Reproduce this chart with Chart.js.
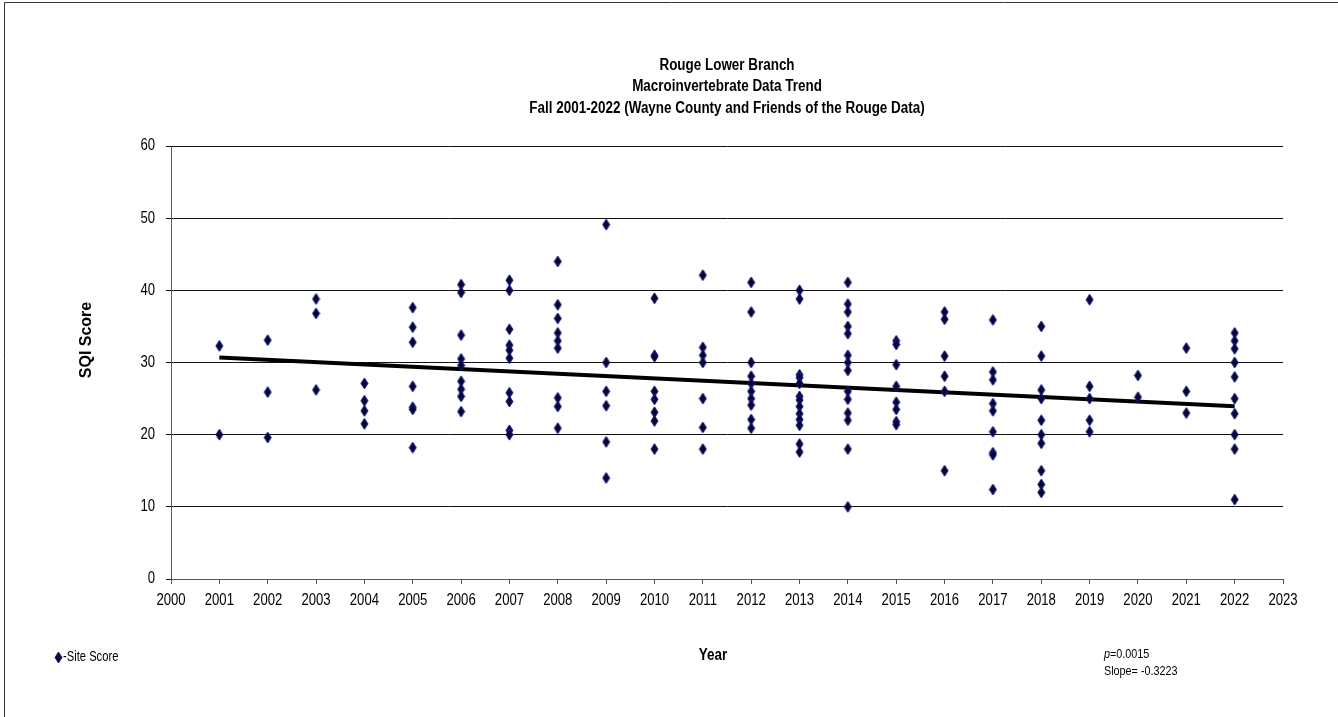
<!DOCTYPE html>
<html>
<head>
<meta charset="utf-8">
<title>Rouge Lower Branch - Macroinvertebrate Data Trend</title>
<script src="https://cdn.jsdelivr.net/npm/chart.js@4/dist/chart.umd.min.js"></script>
<style>
  html, body { margin: 0; padding: 0; background: #fff; }
  #wrap { position: absolute; left: 0; top: 0; width: 1338px; height: 717px; }
</style>
</head>
<body>
<div id="wrap"><canvas id="chart" width="1338" height="717"></canvas></div>
<script>
// Sampling years (fall surveys)
const years = [2001, 2002, 2003, 2004, 2005, 2006, 2007, 2008, 2009, 2010, 2011,
               2012, 2013, 2014, 2015, 2016, 2017, 2018, 2019, 2020, 2021, 2022];

// SQI site scores recorded in each year (same order as `years`)
const siteScores = [
  [32.3, 20.0],
  [33.1, 25.9, 19.6],
  [38.8, 36.8, 26.2],
  [27.1, 24.7, 23.3, 21.5],
  [37.6, 34.9, 32.8, 26.7, 23.8, 23.5, 18.2],
  [40.8, 39.7, 33.8, 30.5, 29.6, 27.4, 26.3, 25.3, 23.2],
  [41.4, 40.0, 34.6, 32.4, 31.7, 30.6, 25.8, 24.6, 20.6, 20.0],
  [44.0, 38.0, 36.1, 34.1, 33.0, 32.0, 25.1, 23.9, 20.9],
  [49.1, 30.0, 26.0, 24.0, 19.0, 14.0],
  [38.9, 31.0, 30.8, 26.0, 24.9, 23.1, 21.9, 18.0],
  [42.1, 32.1, 31.0, 30.0, 25.0, 21.0, 18.0],
  [41.1, 37.0, 30.0, 28.1, 27.1, 26.0, 25.0, 24.1, 22.1, 20.9],
  [40.0, 38.8, 28.3, 27.9, 27.1, 25.3, 24.8, 23.9, 22.9, 22.1, 21.3, 18.7, 17.6],
  [41.1, 38.1, 37.0, 35.0, 34.0, 31.0, 30.0, 28.9, 26.0, 24.9, 23.0, 22.0, 18.0, 10.0],
  [33.0, 32.5, 29.7, 26.7, 24.5, 23.5, 21.8, 21.4],
  [37.0, 36.0, 30.9, 28.1, 26.0, 15.0],
  [35.9, 28.7, 27.6, 24.3, 23.3, 20.4, 17.5, 17.2, 12.4],
  [35.0, 30.9, 26.2, 25.0, 22.0, 20.0, 18.8, 15.0, 13.1, 12.0],
  [38.7, 26.7, 25.0, 22.0, 20.4],
  [28.2, 25.2],
  [32.0, 26.0, 23.0],
  [34.1, 33.0, 31.9, 30.0, 28.0, 25.0, 22.9, 20.0, 18.0, 11.0]
];

// Linear trend: value at the first year and the fitted slope per year
const trendStartValue = 30.7;
const trendSlope = -0.3223;
const pValue = '0.0015';

// Axis tick settings
const xTickRange = [2000, 2023];
const yTickRange = [0, 60];
const yTickStep = 10;

const titleLines = [
  'Rouge Lower Branch',
  'Macroinvertebrate Data Trend',
  'Fall 2001-2022 (Wayne County and Friends of the Rouge Data)'
];

// ---- derived datasets ----
const scatterPoints = [];
years.forEach((yr, i) => siteScores[i].forEach(v => scatterPoints.push({ x: yr, y: v })));

const firstYear = years[0];
const lastYear = years[years.length - 1];
const trendPoints = [
  { x: firstYear, y: trendStartValue },
  { x: lastYear, y: trendStartValue + trendSlope * (lastYear - firstYear) }
];

// Elongated diamond marker
function makeDiamond(w, h) {
  const c = document.createElement('canvas');
  c.width = w + 2; c.height = h + 2;
  const g = c.getContext('2d');
  const cx = (w + 2) / 2, cy = (h + 2) / 2;
  g.beginPath();
  g.moveTo(cx, cy - h / 2);
  g.lineTo(cx + w / 2, cy);
  g.lineTo(cx, cy + h / 2);
  g.lineTo(cx - w / 2, cy);
  g.closePath();
  g.fillStyle = '#06062e';
  g.fill();
  g.lineWidth = 1;
  g.strokeStyle = '#1c1c90';
  g.stroke();
  return c;
}
const diamond = makeDiamond(7, 11);

const SANS = '"Liberation Sans", Arial, sans-serif';

// Text in a horizontally condensed face
function narrowText(ctx, text, x, y, font, squeeze, align) {
  ctx.save();
  ctx.font = font;
  ctx.textBaseline = 'middle';
  ctx.textAlign = 'left';
  const w = ctx.measureText(text).width * squeeze;
  let left = x;
  if (align === 'center') left = x - w / 2;
  else if (align === 'right') left = x - w;
  ctx.translate(left, y);
  ctx.scale(squeeze, 1);
  ctx.fillText(text, 0, 0);
  ctx.restore();
  return w;
}

// Tick labels, titles, legend and statistics text
const annotations = {
  id: 'annotations',
  afterDraw(chart) {
    const ctx = chart.ctx;
    const area = chart.chartArea;
    const cx = (area.left + area.right) / 2;
    ctx.save();
    ctx.fillStyle = '#000';

    // page frame
    ctx.strokeStyle = '#333';
    ctx.lineWidth = 1;
    ctx.beginPath();
    ctx.moveTo(4.5, 717);
    ctx.lineTo(4.5, 2.5);
    ctx.lineTo(1338, 2.5);
    ctx.stroke();

    // axis tick labels
    const xs = chart.scales.x, ys = chart.scales.y;
    xs.ticks.forEach(t => {
      narrowText(ctx, String(t.value), xs.getPixelForValue(t.value), 601, '16px ' + SANS, 0.82, 'center');
    });
    ys.ticks.forEach(t => {
      narrowText(ctx, String(t.value), 155, ys.getPixelForValue(t.value), '16px ' + SANS, 0.82, 'right');
    });

    // chart titles
    const titleY = [66, 87, 109];
    titleLines.forEach((t, i) => narrowText(ctx, t, cx, titleY[i], 'bold 16px ' + SANS, 0.84, 'center'));

    // y axis title
    ctx.save();
    ctx.translate(87, 340);
    ctx.rotate(-Math.PI / 2);
    ctx.font = 'bold 16px ' + SANS;
    ctx.textAlign = 'center';
    ctx.textBaseline = 'middle';
    ctx.fillText('SQI Score', 0, 0);
    ctx.restore();

    // x axis title
    narrowText(ctx, 'Year', 713, 656, 'bold 16px ' + SANS, 0.84, 'center');

    // legend
    ctx.drawImage(diamond, 54, 651);
    narrowText(ctx, '-Site Score', 63, 657, '14px ' + SANS, 0.8, 'left');

    // statistics
    const pw = narrowText(ctx, 'p', 1104, 654, 'italic 13px ' + SANS, 0.83, 'left');
    narrowText(ctx, '=' + pValue, 1104 + pw, 654, '13px ' + SANS, 0.83, 'left');
    narrowText(ctx, 'Slope= ' + trendSlope.toFixed(4), 1104, 671, '13px ' + SANS, 0.83, 'left');

    ctx.restore();
  }
};

new Chart(document.getElementById('chart'), {
  type: 'scatter',
  data: {
    datasets: [
      {
        label: 'Site Score',
        data: scatterPoints,
        pointStyle: diamond,
        pointRadius: 6,
        pointHoverRadius: 6,
        order: 1
      },
      {
        type: 'line',
        label: 'Trend',
        data: trendPoints,
        borderColor: '#000',
        borderWidth: 4,
        pointRadius: 0,
        fill: false,
        order: 2
      }
    ]
  },
  options: {
    responsive: false,
    animation: false,
    devicePixelRatio: 1,
    layout: { padding: { left: 0, top: 146, right: 55, bottom: 98 } },
    plugins: {
      legend: { display: false },
      title: { display: false },
      tooltip: { enabled: false }
    },
    scales: {
      x: {
        type: 'linear',
        min: xTickRange[0],
        max: xTickRange[1],
        afterFit(s) { s.height = 40; },
        ticks: {
          stepSize: 1,
          autoSkip: false,
          maxRotation: 0,
          color: 'rgba(0,0,0,0)',
          font: { family: SANS, size: 14 },
          callback: v => String(v)
        },
        grid: { drawOnChartArea: false, drawTicks: true, tickLength: 5, color: '#555' },
        border: { color: '#555', width: 1 }
      },
      y: {
        min: yTickRange[0],
        max: yTickRange[1],
        afterFit(s) { s.width = 171; },
        ticks: {
          stepSize: yTickStep,
          color: 'rgba(0,0,0,0)',
          font: { family: SANS, size: 15 }
        },
        grid: { color: '#111', lineWidth: 1, tickLength: 5, drawTicks: true },
        border: { color: '#555', width: 1 }
      }
    }
  },
  plugins: [annotations]
});
</script>
</body>
</html>
